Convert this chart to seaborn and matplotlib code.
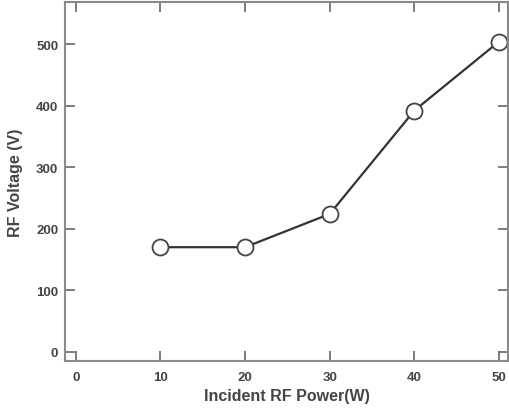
import matplotlib
matplotlib.use("Agg")
import matplotlib.pyplot as plt
import seaborn as sns
import pandas as pd

power = [10, 20, 30, 40, 50]
voltage = [170, 170, 224, 392, 504]

df = pd.DataFrame({"power": power, "voltage": voltage})

sns.set_theme(style="ticks")
plt.rcParams["font.family"] = ["Liberation Sans", "DejaVu Sans"]

fig = plt.figure(figsize=(5.09, 4.14), dpi=100)
ax = fig.add_axes([0.128, 0.126, 0.870, 0.866])

sns.lineplot(data=df, x="power", y="voltage", ax=ax, color="#333333", linewidth=1.6,
             marker="o", markersize=11.5, markerfacecolor="white",
             markeredgecolor="#444444", markeredgewidth=1.3)

ax.set_xlim(-1.26, 51.06)
ax.set_ylim(-14.6, 567.8)
ax.set_xticks([0, 10, 20, 30, 40, 50])
ax.set_yticks([0, 100, 200, 300, 400, 500])

for s in ax.spines.values():
    s.set_color("#8a8a8a")
    s.set_linewidth(1.5)
ax.tick_params(direction="in", length=7, width=1.2, color="#666666",
               top=True, right=True, labelsize=9.5, labelcolor="#444444")
ax.tick_params(axis="x", pad=7)
ax.tick_params(axis="y", pad=5)
for lab in ax.get_xticklabels() + ax.get_yticklabels():
    lab.set_fontweight("bold")

ax.set_xlabel("Incident RF Power(W)", fontsize=11.5, fontweight="bold", color="#444444", labelpad=4)
ax.set_ylabel("RF Voltage (V)", fontsize=11.5, fontweight="bold", color="#444444", labelpad=9)

fig.savefig("out.png", dpi=100)
